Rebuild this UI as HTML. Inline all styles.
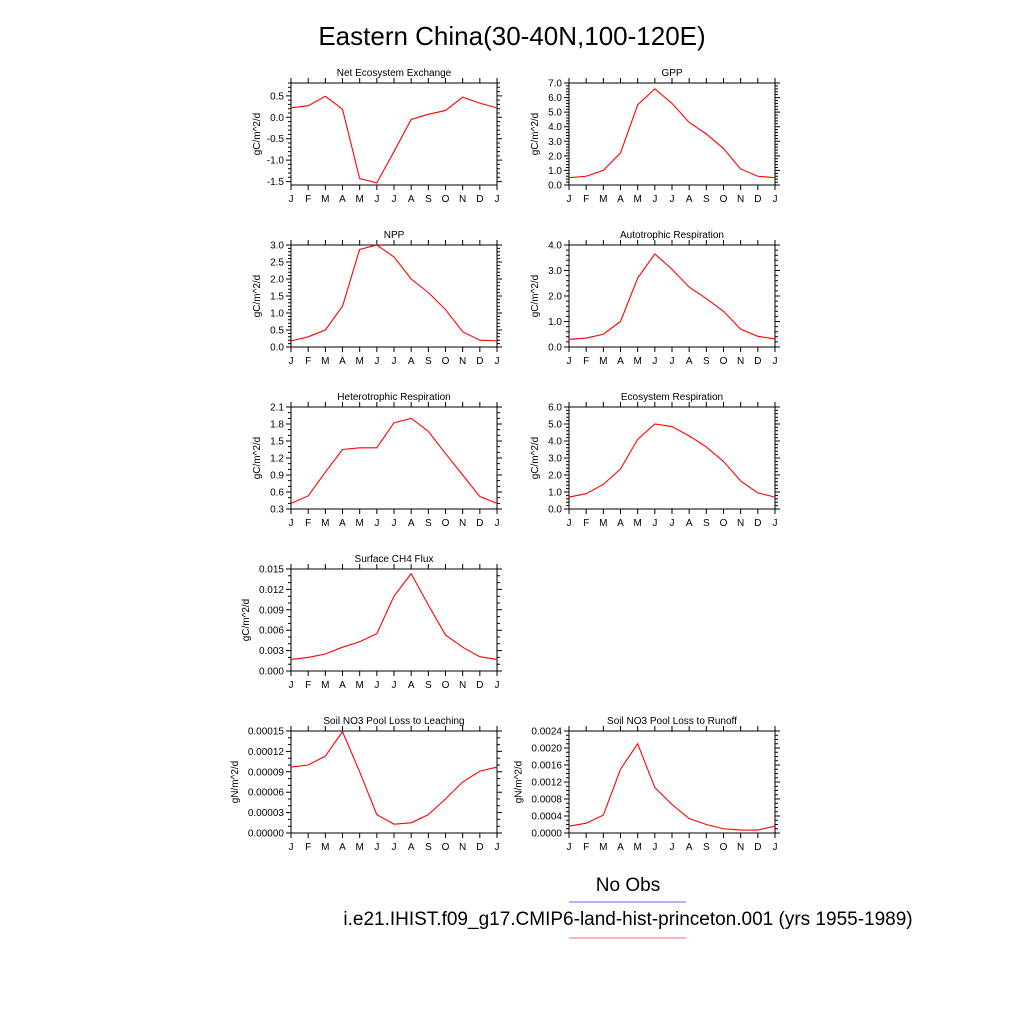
<!DOCTYPE html>
<html><head><meta charset="utf-8"><style>
body{margin:0;background:#fff;}
svg{display:block;font-family:"Liberation Sans",sans-serif;}
</style></head><body>
<svg id="fig" width="1024" height="1024" viewBox="0 0 1024 1024">
<text x="512" y="45" font-size="26" text-anchor="middle">Eastern China(30-40N,100-120E)</text>
<text x="628" y="891" font-size="19" text-anchor="middle">No Obs</text>
<line x1="569" y1="902" x2="686" y2="902" stroke="#9999ff" stroke-width="1.5"/>
<text x="628" y="925" font-size="19" text-anchor="middle">i.e21.IHIST.f09_g17.CMIP6-land-hist-princeton.001 (yrs 1955-1989)</text>
<line x1="569" y1="938" x2="686" y2="938" stroke="#ff9999" stroke-width="1.5"/>
</svg>
<script>
const months=["J","F","M","A","M","J","J","A","S","O","N","D","J"];
const neeVals=[0.22,0.27,0.49,0.19,-1.43,-1.53,-0.8,-0.05,0.07,0.16,0.47,0.33,0.22];
const gppVals=[0.5,0.6,1.0,2.2,5.5,6.6,5.6,4.3,3.5,2.5,1.1,0.6,0.5];
const nppVals=[0.18,0.3,0.5,1.2,2.87,3.0,2.65,2.0,1.6,1.1,0.45,0.2,0.18];
const arVals=[0.3,0.35,0.5,1.0,2.7,3.65,3.05,2.35,1.9,1.4,0.7,0.42,0.32];
const hrVals=[0.4,0.53,0.95,1.35,1.38,1.38,1.82,1.9,1.67,1.28,0.9,0.52,0.4];
const erVals=[0.7,0.9,1.45,2.35,4.1,5.0,4.85,4.3,3.65,2.8,1.65,0.95,0.7];
const ch4Vals=[0.0017,0.002,0.0025,0.0035,0.0043,0.0055,0.011,0.0143,0.0097,0.0053,0.0035,0.0021,0.0017];
const leachVals=[9.7e-5,1.0e-4,1.13e-4,1.49e-4,9e-5,2.7e-5,1.3e-5,1.5e-5,2.7e-5,5e-5,7.5e-5,9.1e-5,9.7e-5];
const runoffVals=[0.00016,0.00023,0.00042,0.0015,0.0021,0.00107,0.00067,0.00034,0.0002,0.0001,0.00007,0.00007,0.00016];
const neeTicks=["-1.5","-1.0","-0.5","0.0","0.5"];
const gppTicks=["0.0","1.0","2.0","3.0","4.0","5.0","6.0","7.0"];
const nppTicks=["0.0","0.5","1.0","1.5","2.0","2.5","3.0"];
const arTicks=["0.0","1.0","2.0","3.0","4.0"];
const hrTicks=["0.3","0.6","0.9","1.2","1.5","1.8","2.1"];
const erTicks=["0.0","1.0","2.0","3.0","4.0","5.0","6.0"];
const ch4Ticks=["0.000","0.003","0.006","0.009","0.012","0.015"];
const leachTicks=["0.00000","0.00003","0.00006","0.00009","0.00012","0.00015"];
const runoffTicks=["0.0000","0.0004","0.0008","0.0012","0.0016","0.0020","0.0024"];

const NS="http://www.w3.org/2000/svg";
const svg=document.getElementById('fig');
function mk(tag,attrs,parent){const e=document.createElementNS(NS,tag);for(const k in attrs)e.setAttribute(k,attrs[k]);(parent||svg).appendChild(e);return e;}

const panels=[
 {id:"nee",title:"Net Ecosystem Exchange",unit:"gC/m^2/d",vals:neeVals,ticks:neeTicks,min:-1.58,max:0.80,minor:0.1,col:0,row:0},
 {id:"gpp",title:"GPP",unit:"gC/m^2/d",vals:gppVals,ticks:gppTicks,min:0,max:7,minor:0.2,col:1,row:0},
 {id:"npp",title:"NPP",unit:"gC/m^2/d",vals:nppVals,ticks:nppTicks,min:0,max:3,minor:0.1,col:0,row:1},
 {id:"ar",title:"Autotrophic Respiration",unit:"gC/m^2/d",vals:arVals,ticks:arTicks,min:0,max:4,minor:0.2,col:1,row:1},
 {id:"hr",title:"Heterotrophic Respiration",unit:"gC/m^2/d",vals:hrVals,ticks:hrTicks,min:0.3,max:2.1,minor:0.1,col:0,row:2},
 {id:"er",title:"Ecosystem Respiration",unit:"gC/m^2/d",vals:erVals,ticks:erTicks,min:0,max:6,minor:0.2,col:1,row:2},
 {id:"ch4",title:"Surface CH4 Flux",unit:"gC/m^2/d",vals:ch4Vals,ticks:ch4Ticks,min:0,max:0.015,minor:0.001,col:0,row:3},
 {id:"leach",title:"Soil NO3 Pool Loss to Leaching",unit:"gN/m^2/d",vals:leachVals,ticks:leachTicks,min:0,max:0.00015,minor:0.00001,col:0,row:4},
 {id:"runoff",title:"Soil NO3 Pool Loss to Runoff",unit:"gN/m^2/d",vals:runoffVals,ticks:runoffTicks,min:0,max:0.0024,minor:0.0001,col:1,row:4}
];
const colX=[291,569], W=206, H=102, rowY=[83,245,407,569,731];
panels.forEach(p=>{
 const x0=colX[p.col], y0=rowY[p.row];
 const g=mk('g',{});
 
 
 const xs=i=>x0+i*W/12;
 const ys=v=>y0+H-(v-p.min)/(p.max-p.min)*H;
 const t=mk('text',{x:x0+W/2,y:y0-7,'font-size':10,'text-anchor':'middle'},g);
 t.textContent=p.title;
 
 
 const yl=mk('text',{x:0,y:0,'font-size':10,'text-anchor':'middle',transform:`translate(${x0-p.ticks[p.ticks.length-1].length*5.6-14},${y0+H/2}) rotate(-90)`},g);
 yl.textContent=p.unit;
 
 
 let d='';
 // x ticks
 for(let i=0;i<=12;i++){const x=xs(i);d+=`M${x},${y0+H}v5M${x},${y0}v-5`;
  const lb=mk('text',{x:x,y:y0+H+17,'font-size':10,'text-anchor':'middle'},g);lb.textContent=months[i];
  
  }
 // y major ticks
 p.ticks.forEach(s=>{const v=parseFloat(s);const y=ys(v);d+=`M${x0},${y}h-5M${x0+W},${y}h5`;
  const lb=mk('text',{x:x0-7,y:y+3.5,'font-size':10,'text-anchor':'end'},g);lb.textContent=s;
  
  });
 // minor ticks
 const n=Math.round((p.max-p.min)/p.minor)+2;
 const start=Math.ceil(p.min/p.minor-1e-6)*p.minor;
 for(let k=0;k<n;k++){const v=start+k*p.minor;if(v>p.max+1e-12)break;const y=ys(v);d+=`M${x0},${y}h-3M${x0+W},${y}h3`;}
 mk('path',{d:d,stroke:'#000','stroke-width':1,fill:'none'},g);
 const fr=mk('rect',{x:x0,y:y0,width:W,height:H,fill:'none',stroke:'#000','stroke-width':1},g);
 
 
 const pts=p.vals.map((v,i)=>xs(i)+','+ys(v)).join(' ');
 const ln=mk('polyline',{points:pts,fill:'none',stroke:'#ff0000','stroke-width':1.1},g);
 
 
});
</script>
</body></html>
